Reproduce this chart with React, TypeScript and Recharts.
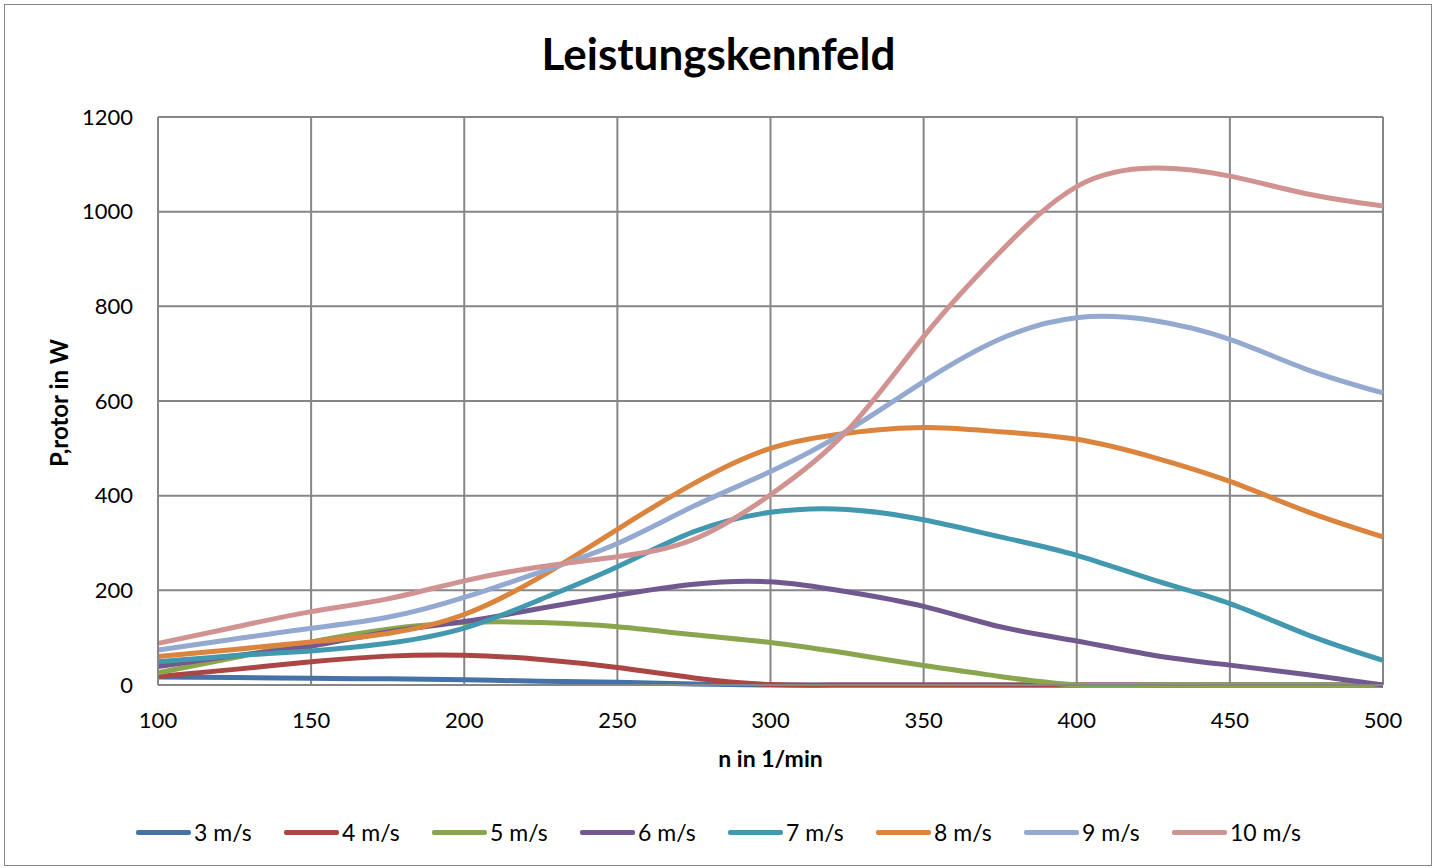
import { LineChart, Line, XAxis, YAxis, CartesianGrid, Legend } from 'recharts'

const FONT = 'Lato, "Open Sans", sans-serif'

// Drehzahl n in 1/min
const rpm = [100, 125, 150, 175, 200, 225, 250, 275, 300, 325, 350, 375, 400, 425, 450, 475, 500]

// Rotorleistung in W je Windgeschwindigkeit
const v3 = [17, 16, 14, 13, 11, 8, 6, 2, 0, 0, 0, 0, 0, 0, 0, 0, 0]
const v4 = [18, 33, 49, 61, 63, 54, 37, 15, 1, 0, 0, 0, 0, 0, 0, 0, 0]
const v5 = [26, 58, 91, 118, 132, 132, 123, 106, 90, 67, 41, 18, 0, 0, 0, 0, 0]
const v6 = [39, 62, 82, 112, 134, 162, 190, 213, 218, 197, 166, 123, 93, 63, 42, 22, 0]
const v7 = [49, 62, 72, 88, 120, 181, 250, 324, 365, 371, 349, 313, 274, 222, 172, 107, 52]
const v8 = [60, 75, 91, 109, 149, 229, 329, 426, 500, 532, 544, 535, 519, 481, 430, 367, 313]
const v9 = [74, 97, 120, 143, 185, 239, 299, 378, 451, 537, 641, 731, 776, 770, 730, 667, 617]
const v10 = [88, 122, 155, 182, 220, 250, 271, 308, 402, 537, 736, 915, 1053, 1092, 1075, 1038, 1012]

const xTicks = [100, 150, 200, 250, 300, 350, 400, 450, 500]
const yTicks = [0, 200, 400, 600, 800, 1000, 1200]

const series = [
  { key: 'v3', name: '3 m/s', color: '#4572A7', values: v3 },
  { key: 'v4', name: '4 m/s', color: '#AA4643', values: v4 },
  { key: 'v5', name: '5 m/s', color: '#89A54E', values: v5 },
  { key: 'v6', name: '6 m/s', color: '#71588F', values: v6 },
  { key: 'v7', name: '7 m/s', color: '#4198AF', values: v7 },
  { key: 'v8', name: '8 m/s', color: '#DB843D', values: v8 },
  { key: 'v9', name: '9 m/s', color: '#93A9CF', values: v9 },
  { key: 'v10', name: '10 m/s', color: '#D19392', values: v10 },
]

const data = rpm.map((n, i) => {
  const row: Record<string, number> = { n }
  series.forEach(s => { row[s.key] = s.values[i] })
  return row
})

function LegendContent() {
  return (
    <div style={{ display: 'flex', justifyContent: 'center', height: 34, alignItems: 'center', fontFamily: FONT, fontSize: 23, color: '#000' }}>
      {series.map((s, i) => (
        <div key={s.key} style={{ display: 'flex', alignItems: 'center', width: i < series.length - 1 ? 148 : undefined }}>
          <span style={{ display: 'inline-block', width: 55, height: 5, borderRadius: 2, background: s.color, marginRight: 3 }} />
          <span>{s.name}</span>
        </div>
      ))}
    </div>
  )
}

export default function App() {
  return (
    <div style={{ position: 'absolute', left: 0, top: 0, width: 1437, height: 868, background: '#fff' }}>
      <div style={{ position: 'absolute', left: 4, top: 4, width: 1426, height: 860, border: '1.5px solid #868686' }} />
      <div style={{ position: 'absolute', left: 0, top: 27, width: 1437, textAlign: 'center', fontFamily: FONT, fontWeight: 700, fontSize: 44 }}>
        Leistungskennfeld
      </div>
      <div style={{
        position: 'absolute', left: 58, top: 403, transform: 'translate(-50%, -50%) rotate(-90deg)',
        fontFamily: FONT, fontWeight: 700, fontSize: 24, whiteSpace: 'nowrap'
      }}>
        P,rotor in W
      </div>
      <div style={{ position: 'absolute', left: 0, top: 0 }}>
        <LineChart width={1437} height={868} data={data} margin={{ top: 117, right: 54, left: 0, bottom: 59 }}>
          <CartesianGrid stroke="#868686" strokeWidth={2} />
          <XAxis
            dataKey="n"
            type="number"
            domain={[100, 500]}
            ticks={xTicks}
            height={90}
            tickLine={false}
            tickMargin={21}
            axisLine={{ stroke: '#868686', strokeWidth: 2 }}
            tick={{ fill: '#000', fontSize: 22, fontFamily: FONT }}
            label={{ value: 'n in 1/min', position: 'insideBottom', offset: 8, fill: '#000', fontSize: 23, fontWeight: 700, fontFamily: FONT }}
          />
          <YAxis
            domain={[0, 1200]}
            ticks={yTicks}
            width={158}
            tickLine={false}
            tickMargin={19}
            axisLine={{ stroke: '#868686', strokeWidth: 2 }}
            tick={{ fill: '#000', fontSize: 22, fontFamily: FONT }}
          />
          <Legend
            verticalAlign="bottom"
            content={<LegendContent />}
            wrapperStyle={{ top: 815, left: 0, width: 1437 }}
          />
          {series.map(s => (
            <Line
              key={s.key}
              type="natural"
              dataKey={s.key}
              name={s.name}
              stroke={s.color}
              strokeWidth={5}
              dot={false}
              isAnimationActive={false}
            />
          ))}
        </LineChart>
      </div>
    </div>
  )
}
